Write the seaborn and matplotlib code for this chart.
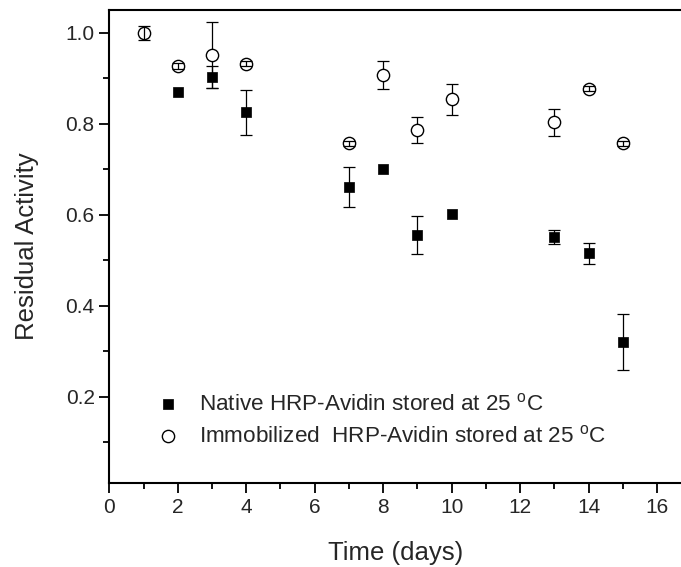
import matplotlib
matplotlib.use("Agg")
import matplotlib.pyplot as plt
import seaborn as sns
import pandas as pd
from matplotlib.ticker import MultipleLocator

days_native = [2, 3, 4, 7, 8, 9, 10, 13, 14, 15]
native = [0.870, 0.903, 0.825, 0.661, 0.700, 0.555, 0.601, 0.551, 0.515, 0.320]
native_err = [0.0, 0.025, 0.049, 0.044, 0.0, 0.042, 0.0, 0.016, 0.023, 0.061]

days_imm = [1, 2, 3, 4, 7, 8, 9, 10, 13, 14, 15]
imm = [1.000, 0.927, 0.951, 0.932, 0.757, 0.907, 0.786, 0.854, 0.803, 0.877, 0.757]
imm_err = [0.015, 0.006, 0.073, 0.006, 0.006, 0.030, 0.029, 0.034, 0.029, 0.006, 0.006]

label_native = "Native HRP-Avidin stored at 25 $^{\\mathrm{o}}$C"
label_imm = "Immobilized  HRP-Avidin stored at 25 $^{\\mathrm{o}}$C"

sns.set_style("ticks")
plt.rcParams["font.family"] = ["Liberation Sans", "DejaVu Sans"]
plt.rcParams["mathtext.fontset"] = "custom"
plt.rcParams["mathtext.rm"] = "Liberation Sans"

fig = plt.figure(figsize=(6.81, 5.67), dpi=100)
ax = fig.add_axes([0.1605, 0.1476, 0.8395, 0.8348])

df_n = pd.DataFrame({"day": days_native, "act": native, "err": native_err})
df_i = pd.DataFrame({"day": days_imm, "act": imm, "err": imm_err})
en = df_n[df_n["err"] > 0]
ei_big = df_i[df_i["err"] > 0.02]
ei_small = df_i[(df_i["err"] > 0) & (df_i["err"] <= 0.02)]

ebkw = dict(fmt="none", ecolor="black", elinewidth=0.9, capsize=4, capthick=0.9)
ax.errorbar(en["day"], en["act"], yerr=en["err"], zorder=2, **ebkw)
ax.errorbar(ei_big["day"], ei_big["act"], yerr=ei_big["err"], zorder=2, **ebkw)

sns.scatterplot(data=df_n, x="day", y="act", marker="s", s=60, color="black",
                edgecolor="black", linewidth=0.5, ax=ax, zorder=3, label=label_native)
sns.scatterplot(data=df_i, x="day", y="act", marker="o", s=78, facecolor="white",
                edgecolor="black", linewidth=1.0, ax=ax, zorder=3, label=label_imm)

# small error bars sit inside the circles and are drawn over them
ax.errorbar(ei_small["day"], ei_small["act"], yerr=ei_small["err"], zorder=4, **ebkw)

ax.set_xlim(0, 16.7)
ax.set_ylim(0.01, 1.05)
ax.xaxis.set_major_locator(MultipleLocator(2))
ax.xaxis.set_minor_locator(MultipleLocator(1))
ax.yaxis.set_minor_locator(MultipleLocator(0.1))
ax.set_yticks([0.2, 0.4, 0.6, 0.8, 1.0])
ax.set_yticklabels(["0.2", "0.4", "0.6", "0.8", "1.0"])

ax.tick_params(which="major", direction="out", length=7, width=1.3, labelsize=15, color="black")
ax.tick_params(which="minor", direction="out", length=4.5, width=1.3, color="black")
for side in ["left", "bottom", "top"]:
    ax.spines[side].set_linewidth(1.5)
    ax.spines[side].set_color("black")
ax.spines["right"].set_visible(False)

ax.set_xlabel("Time (days)", fontsize=18.5, labelpad=17)
ax.set_ylabel("Residual Activity", fontsize=18.5, labelpad=19)

leg = ax.legend(loc="upper left", bbox_to_anchor=(0.048, 0.21), frameon=False,
                fontsize=16.2, handletextpad=0.38, labelspacing=0.45, markerscale=1.0,
                borderaxespad=0)

fig.savefig("out.png", dpi=100)
